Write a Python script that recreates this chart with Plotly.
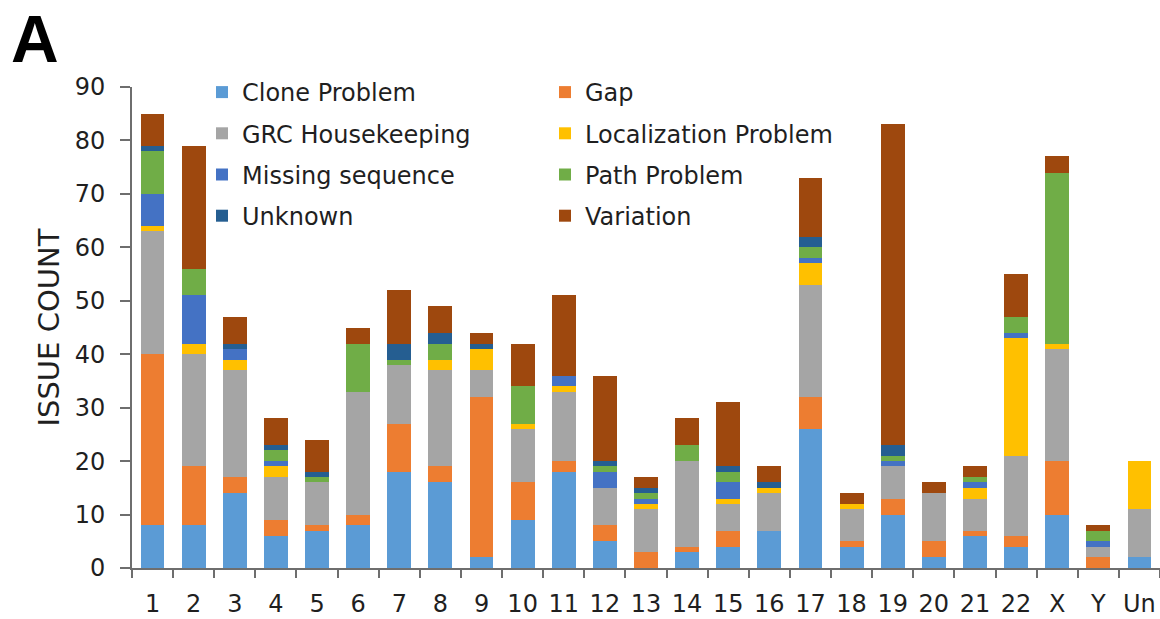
import plotly.graph_objects as go

# Chromosome categories
chromosomes = ["1", "2", "3", "4", "5", "6", "7", "8", "9", "10", "11", "12", "13",
               "14", "15", "16", "17", "18", "19", "20", "21", "22", "X", "Y", "Un"]

# Issue counts per category, stacked bottom to top
clone_problem = [8, 8, 14, 6, 7, 8, 18, 16, 2, 9, 18, 5, 0, 3, 4, 7, 26, 4, 10, 2, 6, 4, 10, 0, 2]
gap = [32, 11, 3, 3, 1, 2, 9, 3, 30, 7, 2, 3, 3, 1, 3, 0, 6, 1, 3, 3, 1, 2, 10, 2, 0]
grc_housekeeping = [23, 21, 20, 8, 8, 23, 11, 18, 5, 10, 13, 7, 8, 16, 5, 7, 21, 6, 6, 9, 6, 15, 21, 2, 9]
localization_problem = [1, 2, 2, 2, 0, 0, 0, 2, 4, 1, 1, 0, 1, 0, 1, 1, 4, 1, 0, 0, 2, 22, 1, 0, 9]
missing_sequence = [6, 9, 2, 1, 0, 0, 0, 0, 0, 0, 2, 3, 1, 0, 3, 0, 1, 0, 1, 0, 1, 1, 0, 1, 0]
path_problem = [8, 5, 0, 2, 1, 9, 1, 3, 0, 7, 0, 1, 1, 3, 2, 0, 2, 0, 1, 0, 1, 3, 32, 2, 0]
unknown = [1, 0, 1, 1, 1, 0, 3, 2, 1, 0, 0, 1, 1, 0, 1, 1, 2, 0, 2, 0, 0, 0, 0, 0, 0]
variation = [6, 23, 5, 5, 6, 3, 10, 5, 2, 8, 15, 16, 2, 5, 12, 3, 11, 2, 60, 2, 2, 8, 3, 1, 0]

series = [
    ("Clone Problem", clone_problem, "#5B9BD5", "legend"),
    ("Gap", gap, "#ED7D31", "legend2"),
    ("GRC Housekeeping", grc_housekeeping, "#A5A5A5", "legend"),
    ("Localization Problem", localization_problem, "#FFC000", "legend2"),
    ("Missing sequence", missing_sequence, "#4472C4", "legend"),
    ("Path Problem", path_problem, "#70AD47", "legend2"),
    ("Unknown", unknown, "#255E91", "legend"),
    ("Variation", variation, "#9E480E", "legend2"),
]

TEXT = "#1f1f1f"
AXIS = "#6e6e6e"
FONT = "DejaVu Sans, Verdana, sans-serif"

fig = go.Figure()
for name, vals, color, leg in series:
    fig.add_trace(go.Bar(
        x=chromosomes, y=vals, name=name,
        marker=dict(color=color, line=dict(width=0)),
        legend=leg, legendgroup=name,
    ))

W, H = 1160, 619
L, R, T, B = 132, 0, 87, 51
pw, ph = W - L - R, H - T - B


def px_x(x):
    return (x - L) / pw


def px_y(y):
    return (H - B - y) / ph


legend_common = dict(
    font=dict(family=FONT, size=24, color=TEXT),
    bgcolor="rgba(0,0,0,0)",
    traceorder="grouped",
    tracegroupgap=7,
    orientation="v",
    xanchor="left",
    yanchor="top",
    itemclick=False,
)

fig.update_layout(
    width=W, height=H,
    margin=dict(l=L, r=R, t=T, b=B),
    paper_bgcolor="white",
    plot_bgcolor="white",
    barmode="stack",
    bargap=0.42,
    font=dict(family=FONT, color=TEXT),
    legend=dict(x=px_x(202), y=px_y(70), **legend_common),
    legend2=dict(x=px_x(545), y=px_y(70), **legend_common),
    xaxis=dict(
        type="category",
        range=[-0.5, 24.5],
        showline=True, linecolor=AXIS, linewidth=2,
        ticks="outside", tickson="boundaries", ticklen=8, tickwidth=2, tickcolor=AXIS,
        tickfont=dict(family=FONT, size=24, color=TEXT),
        tickangle=0,
        ticklabelstandoff=13,
        showgrid=False, zeroline=False,
    ),
    yaxis=dict(
        range=[0, 90], dtick=10, tick0=0,
        showline=True, linecolor=AXIS, linewidth=2,
        ticks="outside", ticklen=10, tickwidth=2, tickcolor=AXIS,
        tickfont=dict(family=FONT, size=24, color=TEXT),
        ticklabelstandoff=10,
        showgrid=False, zeroline=False,
    ),
    annotations=[
        dict(text="ISSUE COUNT", textangle=-90, showarrow=False,
             xref="paper", yref="paper", x=px_x(48), y=0.5,
             xanchor="center", yanchor="middle",
             font=dict(family=FONT, size=29, color=TEXT)),
        dict(text="<b>A</b>", showarrow=False,
             xref="paper", yref="paper", x=px_x(9), y=px_y(0),
             xanchor="left", yanchor="top",
             font=dict(family="Liberation Sans, Arial, sans-serif", size=66, color="black")),
    ],
)

fig.write_html("out.html")
